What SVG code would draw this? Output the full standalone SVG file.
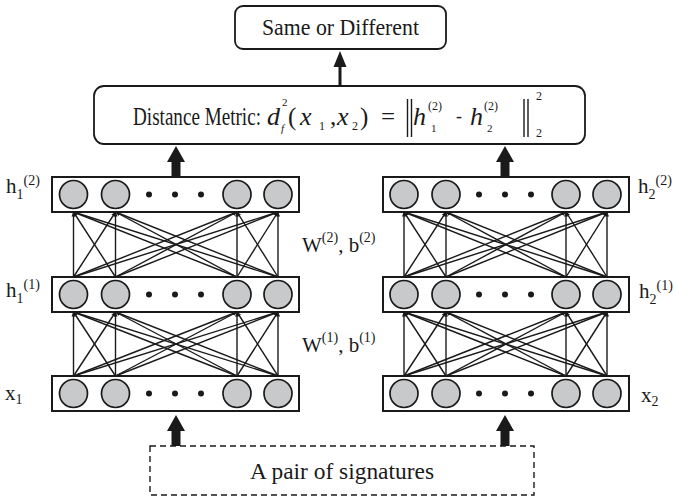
<svg xmlns="http://www.w3.org/2000/svg" width="676" height="497" viewBox="0 0 676 497">
<defs>
<style>
text{font-family:"Liberation Serif","Times New Roman",serif;fill:#1a1a1a}
.box{fill:#fff;stroke:#1a1a1a;stroke-width:1.8}
.layer{fill:#fff;stroke:#1a1a1a;stroke-width:2}
.node{fill:#c8c9cb;stroke:#1a1a1a;stroke-width:1.7}
.dot{fill:#1a1a1a}
.conn{stroke:#1a1a1a;stroke-width:1.4;fill:none;marker-end:url(#ah)}
.big{fill:#1a1a1a}
.it{font-style:italic}
.norm{stroke:#1a1a1a;stroke-width:1.4}
</style>
<marker id="ah" viewBox="0 0 10 10" refX="9" refY="5" markerWidth="5" markerHeight="5" orient="auto" markerUnits="userSpaceOnUse">
<path d="M0,1 L10,5 L0,9 z" fill="#1a1a1a"/>
</marker>
</defs>
<rect width="676" height="497" fill="#fff"/>

<g id="output">
<rect class="box" x="235" y="6" width="211" height="43" rx="8"/>
<text x="262" y="35" font-size="23" textLength="157" lengthAdjust="spacingAndGlyphs">Same or Different</text>
</g>

<g id="distance">
<rect class="box" x="94" y="86" width="491" height="58" rx="10"/>
<text x="133" y="125" font-size="25" textLength="128" lengthAdjust="spacingAndGlyphs">Distance Metric:</text>
<text font-size="26"><tspan class="it" x="267" y="125">d</tspan><tspan font-size="11" x="282" y="106">2</tspan><tspan class="it" font-size="11" x="281" y="132">f</tspan><tspan font-size="25" x="288" y="125">(</tspan><tspan class="it" x="300" y="125">x</tspan><tspan font-size="12" x="319" y="130">1</tspan><tspan font-size="25" x="330" y="125">,</tspan><tspan class="it" x="337" y="125">x</tspan><tspan font-size="12" x="352" y="130">2</tspan><tspan font-size="25" x="360" y="125">)</tspan><tspan font-size="25" x="381" y="125">=</tspan><tspan class="it" x="413" y="125">h</tspan><tspan font-size="12" x="428" y="110">(2)</tspan><tspan font-size="11" x="431" y="132">1</tspan><tspan font-size="18" x="456" y="122">-</tspan><tspan class="it" x="470" y="125">h</tspan><tspan font-size="12" x="484" y="110">(2)</tspan><tspan font-size="11" x="487" y="132">2</tspan><tspan font-size="12" x="536" y="100">2</tspan><tspan font-size="12" x="536" y="137">2</tspan></text>
<line class="norm" x1="407.5" y1="99" x2="407.5" y2="137"/>
<line class="norm" x1="411.5" y1="99" x2="411.5" y2="137"/>
<line class="norm" x1="524" y1="99" x2="524" y2="137"/>
<line class="norm" x1="528" y1="99" x2="528" y2="137"/>
</g>

<g id="left-h2">
<rect class="layer" x="52" y="177" width="247" height="35"/>
<circle class="node" cx="73.5" cy="194.5" r="14"/>
<circle class="node" cx="115.5" cy="194.5" r="14"/>
<circle class="dot" cx="149" cy="194.5" r="3"/>
<circle class="dot" cx="175" cy="194.5" r="3"/>
<circle class="dot" cx="201" cy="194.5" r="3"/>
<circle class="node" cx="237" cy="194.5" r="14"/>
<circle class="node" cx="278" cy="194.5" r="14"/>
</g>
<g id="left-h1">
<rect class="layer" x="52" y="277" width="247" height="35"/>
<circle class="node" cx="73.5" cy="294.5" r="14"/>
<circle class="node" cx="115.5" cy="294.5" r="14"/>
<circle class="dot" cx="149" cy="294.5" r="3"/>
<circle class="dot" cx="175" cy="294.5" r="3"/>
<circle class="dot" cx="201" cy="294.5" r="3"/>
<circle class="node" cx="237" cy="294.5" r="14"/>
<circle class="node" cx="278" cy="294.5" r="14"/>
</g>
<g id="left-x">
<rect class="layer" x="52" y="376" width="247" height="35"/>
<circle class="node" cx="73.5" cy="393.5" r="14"/>
<circle class="node" cx="115.5" cy="393.5" r="14"/>
<circle class="dot" cx="149" cy="393.5" r="3"/>
<circle class="dot" cx="175" cy="393.5" r="3"/>
<circle class="dot" cx="201" cy="393.5" r="3"/>
<circle class="node" cx="237" cy="393.5" r="14"/>
<circle class="node" cx="278" cy="393.5" r="14"/>
</g>

<g id="right-h2">
<rect class="layer" x="383" y="177" width="246" height="35"/>
<circle class="node" cx="404" cy="194.5" r="14"/>
<circle class="node" cx="446" cy="194.5" r="14"/>
<circle class="dot" cx="479" cy="194.5" r="3"/>
<circle class="dot" cx="505" cy="194.5" r="3"/>
<circle class="dot" cx="531" cy="194.5" r="3"/>
<circle class="node" cx="566" cy="194.5" r="14"/>
<circle class="node" cx="607" cy="194.5" r="14"/>
</g>
<g id="right-h1">
<rect class="layer" x="383" y="277" width="246" height="35"/>
<circle class="node" cx="404" cy="294.5" r="14"/>
<circle class="node" cx="446" cy="294.5" r="14"/>
<circle class="dot" cx="479" cy="294.5" r="3"/>
<circle class="dot" cx="505" cy="294.5" r="3"/>
<circle class="dot" cx="531" cy="294.5" r="3"/>
<circle class="node" cx="566" cy="294.5" r="14"/>
<circle class="node" cx="607" cy="294.5" r="14"/>
</g>
<g id="right-x">
<rect class="layer" x="383" y="376" width="246" height="35"/>
<circle class="node" cx="404" cy="393.5" r="14"/>
<circle class="node" cx="446" cy="393.5" r="14"/>
<circle class="dot" cx="479" cy="393.5" r="3"/>
<circle class="dot" cx="505" cy="393.5" r="3"/>
<circle class="dot" cx="531" cy="393.5" r="3"/>
<circle class="node" cx="566" cy="393.5" r="14"/>
<circle class="node" cx="607" cy="393.5" r="14"/>
</g>

<g id="input">
<rect x="150" y="446" width="384" height="49" fill="none" stroke="#1a1a1a" stroke-width="1.4" stroke-dasharray="6 4"/>
<text x="250" y="479" font-size="24" textLength="184" lengthAdjust="spacingAndGlyphs">A pair of signatures</text>
</g>

<g id="labels" font-size="21">
<text x="6" y="193">h<tspan font-size="14" dy="6">1</tspan><tspan font-size="14" dy="-14">(2)</tspan></text>
<text x="6" y="297">h<tspan font-size="14" dy="6">1</tspan><tspan font-size="14" dy="-14">(1)</tspan></text>
<text x="5" y="400">x<tspan font-size="14" dy="4">1</tspan></text>
<text x="638" y="193">h<tspan font-size="14" dy="6">2</tspan><tspan font-size="14" dy="-14">(2)</tspan></text>
<text x="639" y="298">h<tspan font-size="14" dy="6">2</tspan><tspan font-size="14" dy="-14">(1)</tspan></text>
<text x="641" y="402">x<tspan font-size="14" dy="4">2</tspan></text>
<text x="302" y="252">W<tspan font-size="14" dy="-10">(2)</tspan><tspan dy="10">, b</tspan><tspan font-size="14" dy="-10">(2)</tspan></text>
<text x="302" y="352">W<tspan font-size="14" dy="-10">(1)</tspan><tspan dy="10">, b</tspan><tspan font-size="14" dy="-10">(1)</tspan></text>
</g>

<g id="connectors">
<polygon class="big" points="338.5,86 338.5,67 333.5,67 340,51 346.5,67 341.5,67 341.5,86"/>
<polygon class="big" points="171.5,177 171.5,162 167,162 176,146 185,162 180.5,162 180.5,177"/>
<polygon class="big" points="500.5,177 500.5,162 496,162 505,146 514,162 509.5,162 509.5,177"/>
<polygon class="big" points="171.5,446 171.5,431 167,431 176,415 185,431 180.5,431 180.5,446"/>
<polygon class="big" points="500.5,446 500.5,431 496,431 505,415 514,431 509.5,431 509.5,446"/>
<path class="conn" d="M73.5,277 L73.5,212"/><path class="conn" d="M73.5,277 L115.5,212"/><path class="conn" d="M73.5,277 L237,212"/><path class="conn" d="M73.5,277 L278,212"/>
<path class="conn" d="M115.5,277 L73.5,212"/><path class="conn" d="M115.5,277 L115.5,212"/><path class="conn" d="M115.5,277 L237,212"/><path class="conn" d="M115.5,277 L278,212"/>
<path class="conn" d="M237,277 L73.5,212"/><path class="conn" d="M237,277 L115.5,212"/><path class="conn" d="M237,277 L237,212"/><path class="conn" d="M237,277 L278,212"/>
<path class="conn" d="M278,277 L73.5,212"/><path class="conn" d="M278,277 L115.5,212"/><path class="conn" d="M278,277 L237,212"/><path class="conn" d="M278,277 L278,212"/>
<path class="conn" d="M73.5,376 L73.5,312"/><path class="conn" d="M73.5,376 L115.5,312"/><path class="conn" d="M73.5,376 L237,312"/><path class="conn" d="M73.5,376 L278,312"/>
<path class="conn" d="M115.5,376 L73.5,312"/><path class="conn" d="M115.5,376 L115.5,312"/><path class="conn" d="M115.5,376 L237,312"/><path class="conn" d="M115.5,376 L278,312"/>
<path class="conn" d="M237,376 L73.5,312"/><path class="conn" d="M237,376 L115.5,312"/><path class="conn" d="M237,376 L237,312"/><path class="conn" d="M237,376 L278,312"/>
<path class="conn" d="M278,376 L73.5,312"/><path class="conn" d="M278,376 L115.5,312"/><path class="conn" d="M278,376 L237,312"/><path class="conn" d="M278,376 L278,312"/>
<path class="conn" d="M404,277 L404,212"/><path class="conn" d="M404,277 L446,212"/><path class="conn" d="M404,277 L566,212"/><path class="conn" d="M404,277 L607,212"/>
<path class="conn" d="M446,277 L404,212"/><path class="conn" d="M446,277 L446,212"/><path class="conn" d="M446,277 L566,212"/><path class="conn" d="M446,277 L607,212"/>
<path class="conn" d="M566,277 L404,212"/><path class="conn" d="M566,277 L446,212"/><path class="conn" d="M566,277 L566,212"/><path class="conn" d="M566,277 L607,212"/>
<path class="conn" d="M607,277 L404,212"/><path class="conn" d="M607,277 L446,212"/><path class="conn" d="M607,277 L566,212"/><path class="conn" d="M607,277 L607,212"/>
<path class="conn" d="M404,376 L404,312"/><path class="conn" d="M404,376 L446,312"/><path class="conn" d="M404,376 L566,312"/><path class="conn" d="M404,376 L607,312"/>
<path class="conn" d="M446,376 L404,312"/><path class="conn" d="M446,376 L446,312"/><path class="conn" d="M446,376 L566,312"/><path class="conn" d="M446,376 L607,312"/>
<path class="conn" d="M566,376 L404,312"/><path class="conn" d="M566,376 L446,312"/><path class="conn" d="M566,376 L566,312"/><path class="conn" d="M566,376 L607,312"/>
<path class="conn" d="M607,376 L404,312"/><path class="conn" d="M607,376 L446,312"/><path class="conn" d="M607,376 L566,312"/><path class="conn" d="M607,376 L607,312"/>
</g>
</svg>
